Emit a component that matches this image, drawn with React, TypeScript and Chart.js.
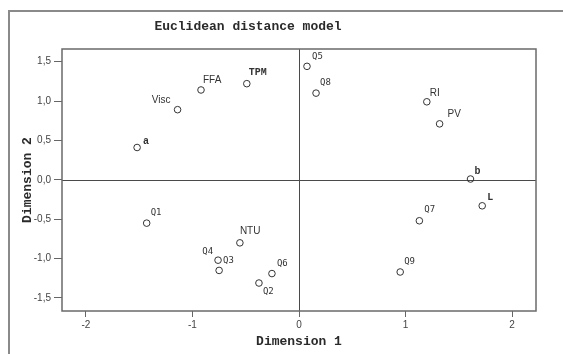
import { useEffect, useRef } from "react";
import { Chart, registerables } from "chart.js";

Chart.register(...registerables);

// ---- data ----
const pointNames = ["a", "Visc", "FFA", "TPM", "Q5", "Q8", "RI", "PV", "b", "L", "Q7", "Q9", "Q1", "NTU", "Q4", "Q3", "Q2", "Q6"];
const dimension1 = [-1.52, -1.14, -0.92, -0.49, 0.075, 0.16, 1.2, 1.32, 1.61, 1.72, 1.13, 0.95, -1.43, -0.555, -0.76, -0.75, -0.376, -0.254];
const dimension2 = [0.41, 0.89, 1.14, 1.22, 1.44, 1.1, 0.99, 0.71, 0.01, -0.33, -0.52, -1.17, -0.55, -0.8, -1.02, -1.15, -1.31, -1.19];
const xTickValues = [-2, -1, 0, 1, 2];
const xTickLabels = ["-2", "-1", "0", "1", "2"];
const yTickValues = [-1.5, -1, -0.5, 0, 0.5, 1, 1.5];
const yTickLabels = ["-1,5", "-1,0", "-0,5", "0,0", "0,5", "1,0", "1,5"];
const chartTitle = "Euclidean distance model";
const xTitle = "Dimension 1";
const yTitle = "Dimension 2";

// ---- label placement (style only): dx, dy, align, font kind ----
const labelPlacement: Record<string, [number, number, CanvasTextAlign, string]> = {
  a: [6, -6, "left", "mono"],
  Visc: [-7, -9, "right", "sans"],
  FFA: [2, -10, "left", "sans"],
  TPM: [2, -11, "left", "mono"],
  Q5: [5, -10, "left", "q"],
  Q8: [4, -10, "left", "q"],
  RI: [3, -9, "left", "sans"],
  PV: [8, -10, "left", "sans"],
  b: [4, -8, "left", "mono"],
  L: [5, -8, "left", "mono"],
  Q7: [5, -11, "left", "q"],
  Q9: [4, -10, "left", "q"],
  Q1: [4, -10, "left", "q"],
  NTU: [0, -12, "left", "sans"],
  Q4: [-5, -9, "right", "q"],
  Q3: [4, -10, "left", "q"],
  Q2: [4, 9, "left", "q"],
  Q6: [5, -10, "left", "q"],
};
const labelFonts: Record<string, string> = {
  sans: "10px 'Liberation Sans', Arial, sans-serif",
  mono: "bold 10px 'Liberation Mono', 'Courier New', monospace",
  q: "9px 'DejaVu Sans Mono', monospace",
};

const decorPlugin = {
  id: "decor",
  beforeDatasetsDraw(chart: any) {
    const { ctx, chartArea: a, scales } = chart;
    const x0 = scales.x.getPixelForValue(0);
    const y0 = scales.y.getPixelForValue(0);
    ctx.save();
    ctx.strokeStyle = "#4a4a4a";
    ctx.lineWidth = 1;
    ctx.beginPath();
    ctx.moveTo(Math.round(x0) + 0.5, a.top);
    ctx.lineTo(Math.round(x0) + 0.5, a.bottom);
    ctx.moveTo(a.left, Math.round(y0) + 0.5);
    ctx.lineTo(a.right, Math.round(y0) + 0.5);
    ctx.stroke();
    ctx.strokeStyle = "#6a6a6a";
    ctx.lineWidth = 1.5;
    ctx.strokeRect(a.left, a.top, a.right - a.left, a.bottom - a.top);
    ctx.restore();
  },
  afterDatasetsDraw(chart: any) {
    const { ctx } = chart;
    const meta = chart.getDatasetMeta(0);
    ctx.save();
    ctx.fillStyle = "#333";
    ctx.textBaseline = "middle";
    meta.data.forEach((el: any, i: number) => {
      const name = pointNames[i];
      const [dx, dy, align, kind] = labelPlacement[name] || [4, -10, "left", "q"];
      ctx.font = labelFonts[kind];
      ctx.textAlign = align;
      ctx.fillText(name, el.x + dx, el.y + dy);
    });
    ctx.font = "bold 13px 'Liberation Mono', 'Courier New', monospace";
    ctx.fillStyle = "#2a2a2a";
    ctx.textAlign = "center";
    ctx.fillText(chartTitle, 248, 27);
    ctx.restore();
  },
};

export default function App() {
  const ref = useRef<HTMLCanvasElement>(null);
  useEffect(() => {
    if (!ref.current) return;
    const tickFont = { family: "'Liberation Sans', Arial, sans-serif", size: 10 };
    const axisTitleFont = { family: "'Liberation Mono', 'Courier New', monospace", size: 13, weight: "bold" as const };
    const chart = new Chart(ref.current, {
      type: "scatter",
      data: {
        datasets: [
          {
            data: dimension1.map((x, i) => ({ x, y: dimension2[i] })),
            pointRadius: 3.3,
            pointHoverRadius: 3.3,
            pointBackgroundColor: "rgba(255,255,255,0)",
            pointBorderColor: "#333",
            pointBorderWidth: 1,
          },
        ],
      },
      options: {
        animation: false,
        responsive: false,
        events: [],
        layout: { padding: { left: 0, top: 49, right: 27, bottom: 0 } },
        plugins: { legend: { display: false }, tooltip: { enabled: false }, title: { display: false } },
        scales: {
          x: {
            type: "linear",
            min: -2.225,
            max: 2.225,
            afterBuildTicks: (s: any) => {
              s.ticks = xTickValues.map((v) => ({ value: v }));
            },
            afterFit: (s: any) => {
              s.height = 43;
            },
            ticks: {
              callback: (v: any) => xTickLabels[xTickValues.indexOf(Number(v))] ?? "",
              font: tickFont,
              color: "#444",
              padding: 2,
              maxRotation: 0,
              autoSkip: false,
            },
            grid: { drawOnChartArea: false, drawTicks: true, tickLength: 6, color: "#666" },
            border: { display: false },
            title: { display: true, text: xTitle, font: axisTitleFont, color: "#2a2a2a", padding: { top: 0, bottom: 4 } },
          },
          y: {
            type: "linear",
            min: -1.665,
            max: 1.66,
            afterBuildTicks: (s: any) => {
              s.ticks = yTickValues.map((v) => ({ value: v }));
            },
            afterFit: (s: any) => {
              s.width = 62;
            },
            ticks: {
              callback: (v: any) => yTickLabels[yTickValues.indexOf(Number(v))] ?? "",
              font: tickFont,
              color: "#444",
              padding: 3,
              autoSkip: false,
            },
            grid: { drawOnChartArea: false, drawTicks: true, tickLength: 8, color: "#666" },
            border: { display: false },
            title: { display: true, text: yTitle, font: axisTitleFont, color: "#2a2a2a", padding: { top: 20, bottom: 0 } },
          },
        },
      },
      plugins: [decorPlugin],
    });
    return () => chart.destroy();
  }, []);

  return (
    <div style={{ position: "fixed", left: 0, top: 0, width: 563, height: 354, background: "#fff", overflow: "hidden" }}>
      <div
        style={{
          position: "absolute",
          left: 8,
          top: 10,
          width: 700,
          height: 500,
          borderLeft: "2px solid #8a8a8a",
          borderTop: "2px solid #8a8a8a",
        }}
      />
      <canvas ref={ref} width={563} height={354} style={{ position: "absolute", left: 0, top: 0 }} />
    </div>
  );
}
